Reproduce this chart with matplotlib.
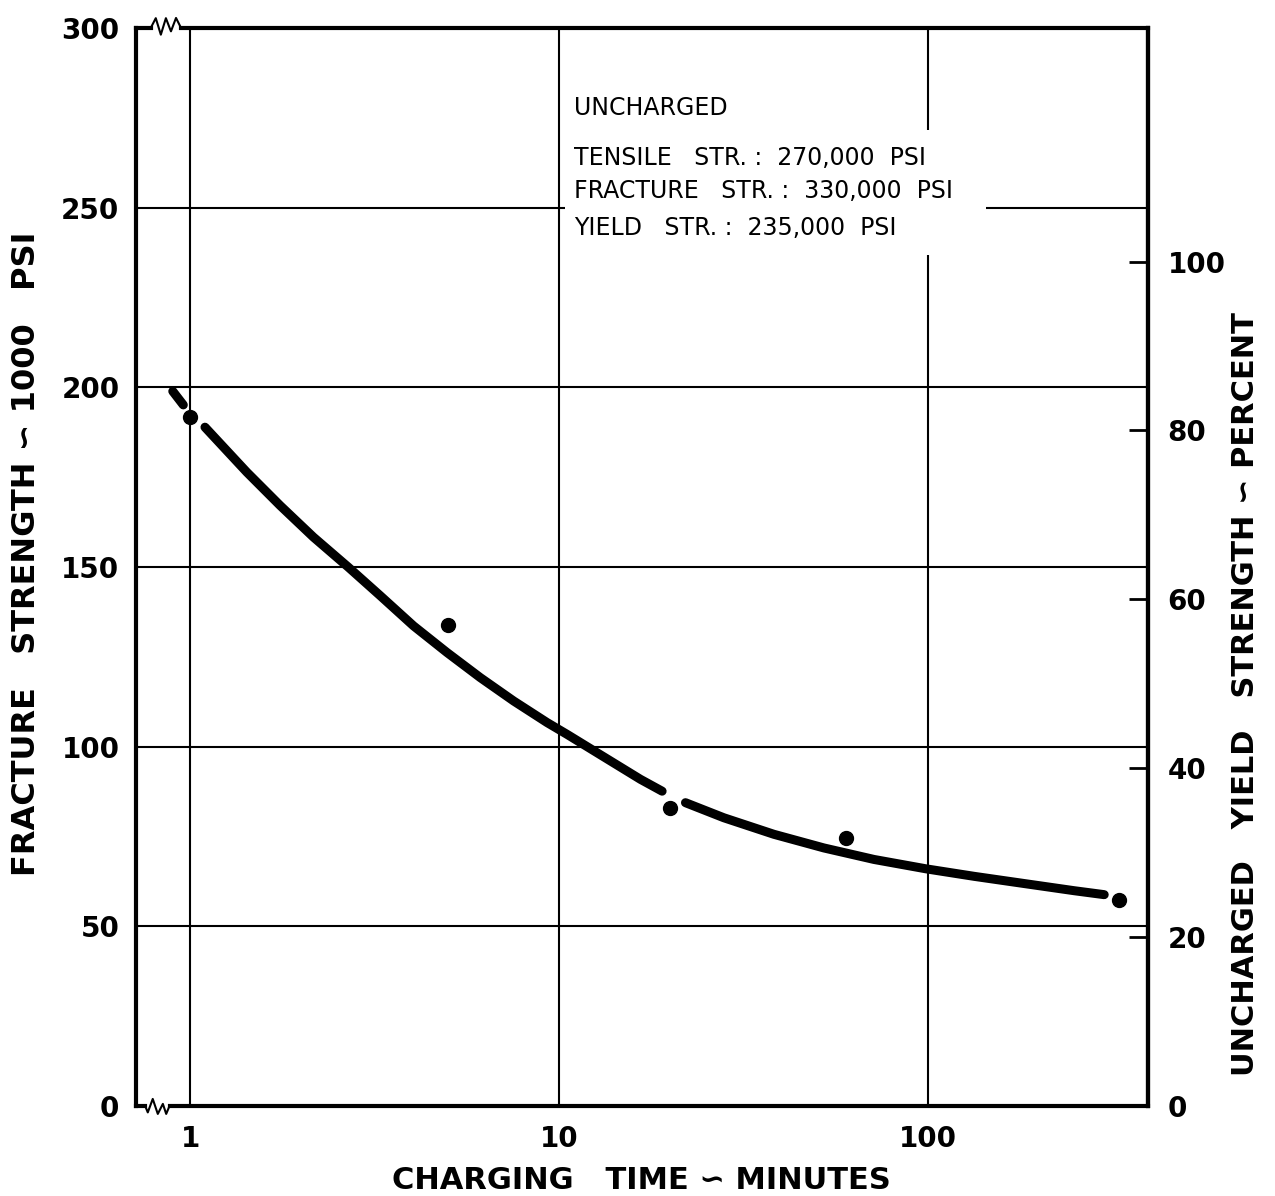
import matplotlib
matplotlib.use("Agg")
import matplotlib.pyplot as plt
from matplotlib.patches import Rectangle

# puntos medidos (tiempo de carga en minutos, resistencia a la fractura en 1000 psi)
tiempo = [1, 5, 20, 60, 330]
fractura = [191.7, 133.8, 83.0, 74.6, 57.4]

tramo1_x = [0.898, 0.959]
tramo1_y = [198.9, 195.1]
tramo2_x = [1.098, 1.425, 1.755, 2.161, 2.689, 3.279, 4.036, 4.973, 6.124,
            7.541, 9.29, 10.53, 16.64, 19.05]
tramo2_y = [188.9, 176.4, 167.1, 158.3, 149.9, 142.0, 133.6, 126.2, 119.2,
            112.7, 106.7, 103.4, 90.9, 87.6]
tramo3_x = [22.04, 28.01, 38.28, 52.3, 71.5, 98.8, 133.6, 182.5, 249.5, 300.9]
tramo3_y = [84.4, 80.2, 75.6, 71.8, 68.6, 66.0, 63.9, 61.9, 59.9, 58.8]

yticks_izq = [0, 50, 100, 150, 200, 250, 300]
yticks_der = [0, 20, 40, 60, 80, 100]
xticks = [1, 10, 100]
xtick_labels = ["1", "10", "100"]
grid_y = [50, 100, 150, 200, 250]
yield_str = 235.0   # 1000 psi, 100 % del eje derecho

caja = ["UNCHARGED", "TENSILE   STR. :  270,000  PSI",
        "FRACTURE   STR. :  330,000  PSI", "YIELD   STR. :  235,000  PSI"]
caja_y = [277.7, 263.7, 254.5, 244.2]

plt.rcParams['font.family'] = ['DejaVu Sans']

fig = plt.figure(figsize=(12.75, 11.96), dpi=100)
ax = fig.add_axes([0.1067, 0.0753, 0.7937, 0.9013])

ax.set_xscale('log')
ax.set_xlim(0.714, 395.5)
ax.set_ylim(0, 300)

ax.set_xticks(xticks)
ax.set_xticklabels(xtick_labels)
ax.xaxis.set_minor_locator(matplotlib.ticker.NullLocator())
ax.set_yticks(yticks_izq)
ax.tick_params(axis='x', length=0, pad=14, labelsize=20)
ax.tick_params(axis='y', length=0, pad=12, labelsize=20)
for t in ax.get_xticklabels() + ax.get_yticklabels():
    t.set_fontweight('bold')

# reticula (sin repetir los bordes)
for yy in grid_y:
    ax.axhline(yy, color='black', linewidth=1.5, zorder=0.5)
for xx in xticks:
    ax.axvline(xx, color='black', linewidth=1.5, zorder=0.5)

# caja blanca del texto que tapa la reticula
ax.add_patch(Rectangle((10.4, 236.7), 143.5 - 10.4, 271.5 - 236.7,
                       facecolor='white', edgecolor='none', zorder=1))

# curva y puntos
for xs, ys in [(tramo1_x, tramo1_y), (tramo2_x, tramo2_y), (tramo3_x, tramo3_y)]:
    ax.plot(xs, ys, color='black', linewidth=6.5, solid_capstyle='round',
            solid_joinstyle='round', zorder=3)
ax.plot(tiempo, fractura, 'o', color='black', markersize=10, zorder=4)

# marcos: arriba y abajo a mano por los simbolos de corte
ax.spines['top'].set_visible(False)
ax.spines['bottom'].set_visible(False)
ax.spines['left'].set_linewidth(3)
ax.spines['right'].set_linewidth(3)
kw = dict(transform=ax.transAxes, clip_on=False, color='black', zorder=5)
ax.plot([0, 0.0145], [1, 1], linewidth=3, solid_capstyle='projecting', **kw)
ax.plot([0.0145, 0.0195, 0.0245, 0.0295, 0.0345, 0.0395, 0.0445],
        [1, 1.0091, 0.9938, 1.0091, 0.9969, 1.0093, 1], linewidth=1.5, **kw)
ax.plot([0.0445, 1.0], [1, 1], linewidth=3, solid_capstyle='projecting', **kw)
ax.plot([0, 0.009], [0, 0], linewidth=3, solid_capstyle='projecting', **kw)
ax.plot([0.009, 0.0116, 0.0165, 0.0215, 0.0265, 0.0298, 0.0331],
        [0, -0.006, 0.0065, -0.0074, 0.0019, -0.0074, 0], linewidth=1.5, **kw)
ax.plot([0.0331, 1.0], [0, 0], linewidth=3, solid_capstyle='projecting', **kw)

# eje derecho en porcentaje del limite elastico sin carga
ax2 = ax.twinx()
ax2.set_ylim(0, 300 / yield_str * 100)
ax2.set_yticks(yticks_der)
ax2.tick_params(axis='y', direction='in', length=14, width=2, pad=14, labelsize=20)
for t in ax2.get_yticklabels():
    t.set_fontweight('bold')
for s in ['top', 'bottom', 'left']:
    ax2.spines[s].set_visible(False)
ax2.spines['right'].set_linewidth(3)

# textos
ax.text(0.4995, -0.069, "CHARGING   TIME \u223D MINUTES", transform=ax.transAxes,
        ha='center', va='center', fontsize=22, fontweight='bold')
ax.text(-0.108, 0.512, "FRACTURE   STRENGTH \u223D 1000   PSI", transform=ax.transAxes,
        ha='center', va='center', rotation=90, fontsize=23, fontweight='bold')
ax.text(1.096, 0.382, "UNCHARGED   YIELD   STRENGTH \u223D PERCENT", transform=ax.transAxes,
        ha='center', va='center', rotation=90, fontsize=22, fontweight='bold')

for linea, yy in zip(caja, caja_y):
    ax.text(11.0, yy, linea, ha='left', va='center', fontsize=17, zorder=6)

fig.savefig("out.png", dpi=100)
